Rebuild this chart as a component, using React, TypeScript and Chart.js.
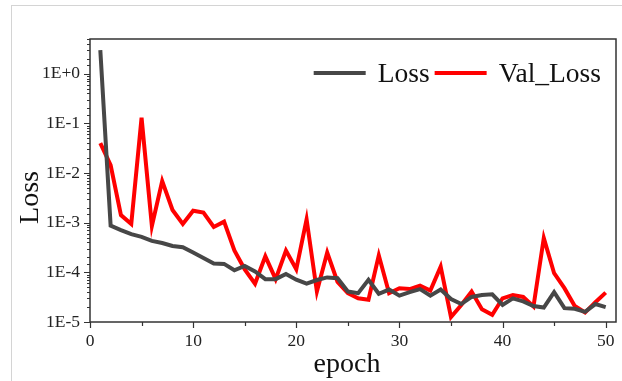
import React, { useEffect, useRef } from 'react';
import { Chart, registerables } from 'chart.js';

Chart.register(...registerables);

const epochs = [
  1, 2, 3, 4, 5, 6, 7, 8, 9, 10, 11, 12, 13, 14, 15, 16, 17, 18, 19, 20, 21, 22, 23, 24, 25,
  26, 27, 28, 29, 30, 31, 32, 33, 34, 35, 36, 37, 38, 39, 40, 41, 42, 43, 44, 45, 46, 47, 48, 49, 50,
];

const lossValues = [
  3.0, 8.7e-4, 7.1e-4, 5.9e-4, 5.2e-4, 4.3e-4, 3.9e-4, 3.4e-4, 3.2e-4, 2.5e-4,
  1.95e-4, 1.5e-4, 1.48e-4, 1.1e-4, 1.35e-4, 1.04e-4, 7.3e-5, 7.3e-5, 9.3e-5, 7.1e-5,
  5.9e-5, 7.0e-5, 7.9e-5, 7.6e-5, 4.1e-5, 3.8e-5, 7.1e-5, 3.7e-5, 4.5e-5, 3.4e-5,
  4.0e-5, 4.6e-5, 3.4e-5, 4.5e-5, 2.9e-5, 2.3e-5, 3.2e-5, 3.5e-5, 3.6e-5, 2.2e-5,
  3.0e-5, 2.6e-5, 2.1e-5, 1.95e-5, 4.0e-5, 1.9e-5, 1.85e-5, 1.6e-5, 2.3e-5, 2.0e-5,
];

const valLossValues = [
  0.04, 0.0144, 1.42e-3, 9.4e-4, 0.13, 8.6e-4, 6.9e-3, 1.8e-3, 9.4e-4, 1.74e-3,
  1.6e-3, 8.2e-4, 1.05e-3, 2.75e-4, 1.15e-4, 5.9e-5, 2.1e-4, 7.3e-5, 2.75e-4, 1.15e-4,
  1.17e-3, 4.1e-5, 2.5e-4, 6.4e-5, 3.8e-5, 3.0e-5, 2.8e-5, 2.2e-4, 3.8e-5, 4.8e-5,
  4.6e-5, 5.4e-5, 4.3e-5, 1.3e-4, 1.26e-5, 2.2e-5, 4.1e-5, 1.8e-5, 1.4e-5, 3.0e-5,
  3.5e-5, 3.2e-5, 2.05e-5, 4.9e-4, 9.6e-5, 4.8e-5, 2.1e-5, 1.55e-5, 2.5e-5, 3.9e-5,
];

const xTickValues = [0, 5, 10, 15, 20, 25, 30, 35, 40, 45, 50];
const xLabelStep = 10;
const seriesLabels = ['Loss', 'Val_Loss'];
const seriesColors = ['#474747', '#ff0000'];
const yTitle = 'Loss';
const xTitle = 'epoch';

const SERIF = "'Liberation Serif', 'Times New Roman', 'DejaVu Serif', serif";

const isPow10 = (v: number) => {
  const l = Math.log10(v);
  return Math.abs(l - Math.round(l)) < 1e-9;
};

const decorPlugin = {
  id: 'decor',
  afterDraw(chart: any) {
    const { ctx, chartArea: a, scales } = chart;
    const xs = scales.x;
    const ys = scales.y;
    ctx.save();
    // frame
    ctx.strokeStyle = '#333';
    ctx.lineWidth = 1.5;
    ctx.strokeRect(a.left, a.top, a.right - a.left, a.bottom - a.top);
    // ticks
    ctx.lineWidth = 1.2;
    ctx.beginPath();
    ys.ticks.forEach((t: any) => {
      const p = Math.round(ys.getPixelForValue(t.value)) + 0.5;
      const len = isPow10(t.value) ? 6 : 3;
      ctx.moveTo(a.left, p);
      ctx.lineTo(a.left - len, p);
    });
    xs.ticks.forEach((t: any) => {
      const p = Math.round(xs.getPixelForValue(t.value)) + 0.5;
      const len = t.value % xLabelStep === 0 ? 6 : 4;
      ctx.moveTo(p, a.bottom);
      ctx.lineTo(p, a.bottom + len);
    });
    ctx.stroke();

    // legend
    ctx.font = `27.5px ${SERIF}`;
    ctx.textBaseline = 'middle';
    ctx.textAlign = 'left';
    const boxW = 52;
    const gap = 12;
    const itemGap = 5;
    const widths = chart.data.datasets.map((d: any) => ctx.measureText(d.label).width);
    const total = widths.reduce((s: number, w: number) => s + boxW + gap + w, 0) + itemGap * (widths.length - 1);
    let lx = a.right - 15 - total;
    const ly = a.top + 34;
    chart.data.datasets.forEach((d: any, i: number) => {
      ctx.strokeStyle = d.borderColor;
      ctx.lineWidth = 4;
      ctx.beginPath();
      ctx.moveTo(lx, ly);
      ctx.lineTo(lx + boxW, ly);
      ctx.stroke();
      ctx.fillStyle = '#111';
      ctx.fillText(d.label, lx + boxW + gap, ly + 2);
      lx += boxW + gap + widths[i] + itemGap;
    });

    // axis titles
    ctx.fillStyle = '#111';
    ctx.font = `28px ${SERIF}`;
    ctx.textAlign = 'center';
    ctx.textBaseline = 'alphabetic';
    ctx.fillText(xTitle, (a.left + a.right) / 2 - 6, 372);
    ctx.save();
    ctx.translate(38, (a.top + a.bottom) / 2 + 17);
    ctx.rotate(-Math.PI / 2);
    ctx.fillText(yTitle, 0, 0);
    ctx.restore();
    ctx.restore();
  },
};

export default function App() {
  const ref = useRef<HTMLCanvasElement | null>(null);
  useEffect(() => {
    if (!ref.current) return;
    const chart = new Chart(ref.current, {
      type: 'line',
      data: {
        labels: epochs,
        datasets: [
          {
            label: seriesLabels[0],
            data: epochs.map((e, i) => ({ x: e, y: lossValues[i] })),
            borderColor: seriesColors[0],
            backgroundColor: seriesColors[0],
            borderWidth: 4,
            pointRadius: 0,
            tension: 0,
          },
          {
            label: seriesLabels[1],
            data: epochs.map((e, i) => ({ x: e, y: valLossValues[i] })),
            borderColor: seriesColors[1],
            backgroundColor: seriesColors[1],
            borderWidth: 4,
            pointRadius: 0,
            tension: 0,
          },
        ],
      },
      options: {
        animation: false,
        responsive: false,
        devicePixelRatio: 1,
        layout: { padding: { left: 0, top: 39, right: 6, bottom: 0 } },
        plugins: { legend: { display: false }, tooltip: { enabled: false } },
        scales: {
          x: {
            type: 'linear',
            min: 0,
            max: 51,
            afterBuildTicks: (s: any) => {
              s.ticks = xTickValues.map((v) => ({ value: v }));
            },
            afterFit: (s: any) => {
              s.height = 59;
            },
            grid: { display: true, drawOnChartArea: false, color: 'rgba(0,0,0,0)', tickLength: 6 },
            border: { display: false },
            ticks: {
              autoSkip: false,
              maxRotation: 0,
              padding: 3,
              color: '#222',
              font: { family: SERIF, size: 17.5 },
              callback: (v: any) => (Number(v) % xLabelStep === 0 ? String(v) : ''),
            },
          },
          y: {
            type: 'logarithmic',
            min: 1e-5,
            max: 5,
            afterFit: (s: any) => {
              s.width = 90;
            },
            grid: { display: true, drawOnChartArea: false, color: 'rgba(0,0,0,0)', tickLength: 6 },
            border: { display: false },
            ticks: {
              autoSkip: false,
              padding: 4,
              color: '#222',
              font: { family: SERIF, size: 17.5 },
              callback: (v: any) => {
                const n = Number(v);
                if (!isPow10(n)) return '';
                const e = Math.round(Math.log10(n));
                return `1E${e >= 0 ? '+' : ''}${e}`;
              },
            },
          },
        },
      },
      plugins: [decorPlugin],
    } as any);
    return () => chart.destroy();
  }, []);

  return (
    <div style={{ position: 'absolute', left: 0, top: 0, width: 622, height: 381, background: '#fff', overflow: 'hidden' }}>
      <div
        style={{
          position: 'absolute',
          left: 11,
          top: 5,
          width: 640,
          height: 400,
          borderLeft: '1px solid #d4d4d4',
          borderTop: '1px solid #d4d4d4',
        }}
      />
      <canvas ref={ref} width={622} height={381} style={{ position: 'absolute', left: 0, top: 0 }} />
    </div>
  );
}
